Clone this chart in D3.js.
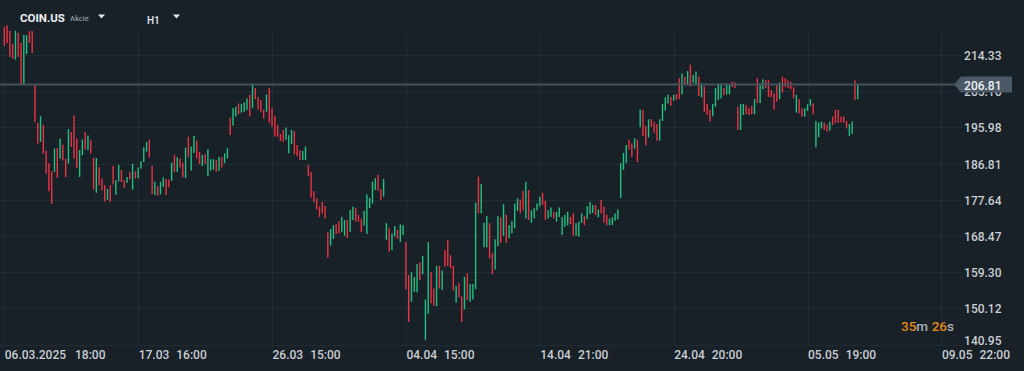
<!DOCTYPE html>
<html>
<head>
<meta charset="utf-8">
<script src="https://cdn.jsdelivr.net/npm/d3@7"></script>
<style>
html, body { margin: 0; padding: 0; background: #182028; overflow: hidden; }
svg { display: block; font-family: Roboto, "Noto Sans", sans-serif; }
</style>
</head>
<body>
<div id="chart"></div>
<script>

// H1 candles, COIN.US (open / close)
const opens = [
221.4,221.8,220.4,217.1,213.1,219.9,217.3,207.0,214.5,220.3,
220.3,206.6,197.1,192.3,196.6,190.0,186.9,184.9,184.7,190.7,
188.0,191.6,188.0,186.8,194.8,199.0,193.1,183.4,188.9,194.8,
190.2,192.7,188.2,179.4,185.9,183.0,181.3,177.6,181.3,186.2,
178.9,182.3,185.2,182.6,181.9,184.7,180.2,184.8,183.1,185.5,
187.2,189.8,192.9,186.2,178.8,181.1,179.0,180.9,182.9,182.8,
182.4,189.0,184.7,188.1,187.0,183.1,193.6,185.0,189.5,192.6,
189.8,186.2,189.2,183.6,185.0,185.3,187.7,185.0,188.4,186.9,
188.1,198.4,196.4,198.7,202.0,199.7,199.9,200.4,204.2,200.8,
205.9,203.6,202.9,200.4,199.9,205.9,200.8,198.8,196.6,194.3,
195.3,192.8,189.4,191.7,195.0,191.5,190.2,187.7,187.7,186.4,
184.7,179.8,178.0,175.9,177.1,176.1,169.4,166.0,167.7,171.4,
172.2,169.5,168.5,172.5,169.5,172.5,175.6,173.8,172.8,171.1,
169.0,175.5,176.7,180.1,183.9,180.3,178.4,167.4,170.4,164.9,
168.3,170.1,167.0,168.7,166.9,158.6,151.8,154.3,154.2,161.8,
158.8,142.1,148.8,159.4,155.2,150.7,160.9,154.8,164.9,167.4,
163.6,160.9,151.6,156.6,153.2,149.9,159.0,151.8,152.4,155.0,
183.5,174.2,165.6,165.6,171.7,164.2,160.0,165.9,173.2,168.5,
173.8,167.9,169.1,170.4,174.8,177.7,179.9,172.9,180.1,171.8,
172.9,174.9,176.0,179.4,177.4,172.9,173.3,174.6,172.1,173.3,
168.7,170.8,171.2,173.3,174.2,168.5,168.3,171.8,173.5,172.7,
174.0,174.3,176.3,173.2,177.6,175.9,173.8,171.2,171.2,172.3,
172.7,178.1,185.2,186.9,192.8,191.9,190.6,192.8,196.0,200.4,
196.3,193.4,198.0,197.4,196.8,192.6,197.6,200.2,202.0,203.7,
202.7,204.4,208.4,204.3,208.8,206.7,211.8,207.3,206.9,208.8,
203.6,206.3,201.9,200.4,198.8,201.2,202.9,203.3,205.9,204.3,
204.3,207.5,207.3,201.2,195.3,199.1,201.6,200.8,201.4,199.3,
208.4,202.1,205.6,207.9,207.9,205.4,204.6,206.7,203.1,208.8,
208.4,207.9,207.5,206.1,199.7,203.1,200.8,198.7,200.1,201.4,
202.0,190.9,193.5,195.7,197.1,196.6,195.1,198.7,200.4,200.4,
198.7,198.7,197.6,193.8,194.3,207.9,203.1
];
const closes = [
216.6,217.3,213.8,213.3,220.4,213.8,206.8,219.4,219.3,217.3,
214.8,197.3,191.8,198.8,189.3,184.2,179.8,176.6,190.6,183.2,
193.1,187.6,183.4,195.5,191.0,188.0,185.7,190.2,192.9,190.4,
193.9,189.3,180.2,188.2,181.3,180.0,177.2,180.4,177.1,181.5,
182.6,186.5,182.1,180.7,183.4,182.8,186.8,183.0,185.8,187.4,
190.9,192.3,188.4,179.1,182.2,178.6,182.2,183.3,178.8,180.8,
187.0,184.7,188.4,185.8,183.3,190.8,188.4,191.1,193.8,188.1,
186.7,189.0,186.7,190.4,187.9,187.9,184.7,188.5,185.8,189.4,
190.7,194.0,200.8,201.2,199.3,201.9,202.3,203.3,198.7,207.1,
203.1,200.5,199.9,198.2,204.3,197.1,196.1,193.6,193.6,192.5,
192.3,195.9,194.0,195.3,189.2,188.7,187.7,190.0,191.1,183.6,
178.2,177.0,175.2,173.3,174.2,172.9,163.0,170.2,171.2,168.9,
169.1,173.3,172.5,168.0,175.0,175.9,172.1,172.1,169.5,174.8,
179.0,178.1,182.2,183.1,179.9,177.6,182.9,171.7,164.5,169.1,
171.0,167.7,171.4,171.2,155.0,146.7,159.3,158.1,161.4,157.3,
163.4,152.4,166.9,151.4,150.8,160.9,155.2,159.7,160.7,160.9,
160.3,154.6,155.8,152.9,146.7,158.1,152.2,156.3,156.3,176.9,
174.2,181.6,171.8,173.5,162.8,158.8,167.6,173.5,166.7,176.5,
166.7,171.2,172.2,176.7,178.0,174.2,175.0,182.2,172.5,175.0,
175.5,176.7,178.4,176.3,172.5,175.0,175.7,172.9,174.6,175.7,
173.3,173.8,174.6,171.5,168.5,171.7,172.1,174.2,171.2,176.0,
177.1,176.3,173.8,175.2,174.2,171.8,171.2,172.9,173.2,174.2,
175.2,186.9,189.5,191.5,190.4,188.5,193.2,187.2,200.5,193.8,
191.4,198.0,196.1,194.6,192.6,198.0,201.9,203.6,204.2,201.4,
204.2,202.9,203.1,209.6,206.7,210.2,206.3,209.2,210.1,203.9,
207.1,199.9,199.1,197.4,201.9,205.9,207.1,207.1,204.1,207.1,
206.7,206.2,205.9,195.3,201.9,201.9,199.3,199.1,199.3,203.1,
202.1,207.1,208.1,205.9,203.7,203.6,200.4,202.5,207.3,204.8,
206.2,205.9,205.6,203.3,204.2,199.5,198.7,200.8,201.8,203.1,
199.3,197.6,197.2,197.4,195.3,194.9,197.4,196.6,197.1,197.1,
197.2,197.1,195.7,196.8,197.4,202.9,206.81
];

const priceTicks = [140.95, 150.12, 159.30, 168.47, 177.64, 186.81, 195.98, 205.16, 214.33];
const timeTickIndex = [0, 48, 96, 144, 192, 240, 288, 336];
const timeTickDates = ['06.03.2025', '17.03', '26.03', '04.04', '14.04', '24.04', '05.05', '09.05'];
const timeTickTimes = ['18:00', '16:00', '15:00', '15:00', '21:00', '20:00', '19:00', '22:00'];
const lastPrice = 206.81;
const symbol = 'COIN.US';
const symbolType = 'Akcie';
const timeframe = 'H1';
const countdown = [['35', 'm'], ['26', 's']];

const W = 1024, H = 371;
const bg = '#182028', gridColor = '#222b33', textColor = '#c9ced3';
const up = '#1ec283', down = '#ea3443';

const svg = d3.select('#chart').append('svg')
  .attr('width', W)
  .attr('height', H);

svg.append('rect').attr('width', W).attr('height', H).attr('fill', bg);

const x = d3.scaleLinear().domain([0, 336]).range([4.3, 941.4]);
const y = d3.scaleLinear().domain([140.95, 214.33]).range([344.7, 54.8]);

// grid
const grid = svg.append('g').attr('class', 'grid');

grid.selectAll('line.h')
  .data(priceTicks)
  .enter()
  .append('line')
  .attr('class', 'h')
  .attr('x1', 0).attr('x2', 962)
  .attr('y1', d => Math.round(y(d)) + 0.5)
  .attr('y2', d => Math.round(y(d)) + 0.5)
  .attr('stroke', gridColor);

grid.selectAll('line.v')
  .data(timeTickIndex)
  .enter()
  .append('line')
  .attr('class', 'v')
  .attr('x1', d => Math.round(x(d)) + 0.5)
  .attr('x2', d => Math.round(x(d)) + 0.5)
  .attr('y1', 30).attr('y2', 345)
  .attr('stroke', gridColor);

// candles
const candles = opens.map((o, i) => ({ i: i, o: o, c: closes[i] }));

svg.append('g')
  .attr('class', 'candles')
  .selectAll('rect')
  .data(candles)
  .enter()
  .append('rect')
  .attr('x', d => x(d.i) - 0.7)
  .attr('width', 1.4)
  .attr('y', d => y(Math.max(d.o, d.c)))
  .attr('height', d => Math.max(1, Math.abs(y(d.o) - y(d.c))))
  .attr('fill', d => d.c >= d.o ? up : down);

// current price line
svg.append('line')
  .attr('x1', 0).attr('x2', 955)
  .attr('y1', y(lastPrice)).attr('y2', y(lastPrice))
  .attr('stroke', '#45525c')
  .attr('stroke-width', 2);

// price axis
const yAxis = d3.axisRight(y)
  .tickValues(priceTicks)
  .tickSize(0)
  .tickFormat(d3.format('.2f'));

const yg = svg.append('g')
  .attr('transform', 'translate(1001.5,0)')
  .call(yAxis);

yg.select('.domain').remove();
yg.attr('font-family', null).attr('font-size', null);
yg.selectAll('text')
  .attr('x', 0)
  .attr('dy', null)
  .attr('y', d => Math.min(4.5, 344.3 - y(d)))
  .attr('text-anchor', 'end')
  .attr('fill', textColor)
  .style('font-size', '12px')
  .style('font-weight', 500);

// time axis
const xAxis = d3.axisBottom(x)
  .tickValues(timeTickIndex)
  .tickSize(0)
  .tickFormat('');

const xg = svg.append('g')
  .attr('transform', 'translate(0,345)')
  .call(xAxis);

xg.select('.domain').remove();
xg.attr('font-family', null).attr('font-size', null);
xg.selectAll('text')
  .attr('y', 13.5)
  .attr('dy', null)
  .attr('x', 0)
  .attr('text-anchor', 'start')
  .attr('fill', textColor)
  .style('font-size', '12px')
  .style('font-weight', 500)
  .each(function (d, i) {
    let t = d3.select(this);
    t.append('tspan').text(timeTickDates[i]);
    t.append('tspan').attr('dx', i == 0 ? 9 : 7).text(timeTickTimes[i]);
  });

// price tag
const py = y(lastPrice);
svg.append('path')
  .attr('d', `M954,${py} L961,${py - 8} L1012,${py - 8} L1012,${py + 8} L961,${py + 8} Z`)
  .attr('fill', '#4a5965');

svg.append('text')
  .attr('x', 1001.5)
  .attr('y', py + 5)
  .attr('text-anchor', 'end')
  .attr('fill', '#eef1f3')
  .style('font-size', '12px')
  .style('font-weight', 500)
  .text(d3.format('.2f')(lastPrice));

// countdown
const cd = svg.append('text')
  .attr('x', 901)
  .attr('y', 330.7)
  .style('font-size', '13.5px')
  .style('font-weight', 500);

countdown.forEach((part, i) => {
  cd.append('tspan').attr('fill', '#e58a12').attr('dx', i ? 3.5 : 0).text(part[0]);
  cd.append('tspan').attr('fill', '#a9b0b6').text(part[1]);
});

// header
svg.append('text')
  .attr('x', 20).attr('y', 22.3)
  .attr('fill', '#eceff1')
  .style('font-size', '11.5px')
  .style('font-weight', 700)
  .text(symbol);

svg.append('text')
  .attr('x', 70).attr('y', 21)
  .attr('fill', '#8f989f')
  .style('font-size', '7.5px')
  .style('font-weight', 500)
  .text(symbolType);

svg.append('text')
  .attr('x', 147).attr('y', 24)
  .attr('fill', '#dfe3e6')
  .style('font-size', '10px')
  .style('font-weight', 600)
  .text(timeframe);

[98, 173].forEach(tx => {
  svg.append('path')
    .attr('d', `M${tx},14.5 L${tx + 7},14.5 L${tx + 3.5},18.5 Z`)
    .attr('fill', '#e6e9eb');
});

</script>
</body>
</html>
